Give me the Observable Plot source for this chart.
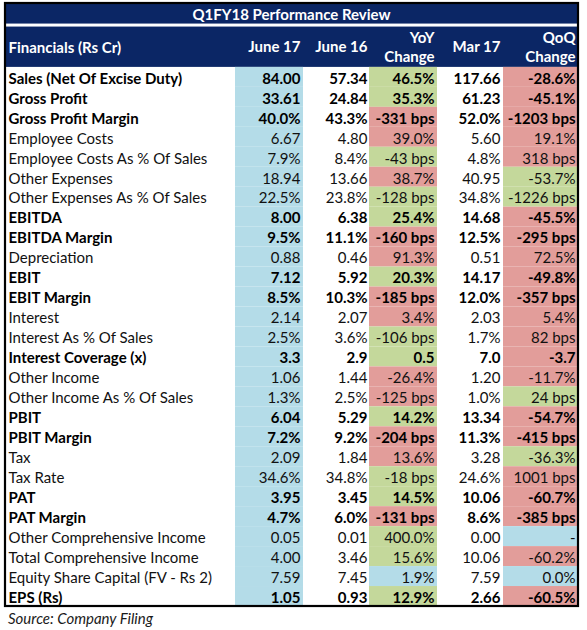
<!DOCTYPE html>
<html><head><meta charset="utf-8">
<script src="https://cdn.jsdelivr.net/npm/d3@7"></script>
<script src="https://cdn.jsdelivr.net/npm/@observablehq/plot@0.6"></script>
<style>
body{margin:0;background:#fff;font-family:Lato,sans-serif;}
#caption{font-style:italic;font-size:15px;color:#1a1a1a;margin:0 0 0 8px;line-height:20px;}
</style></head><body>
<div id="chart"></div>
<div id="caption">Source: Company Filing</div>
<script>
// ---------- data ----------
const title = "Q1FY18 Performance Review";
const headers = ["Financials (Rs Cr)", "June 17", "June 16", "YoY\nChange", "Mar 17", "QoQ\nChange"];
const items = [
  "Sales (Net Of Excise Duty)", "Gross Profit", "Gross Profit Margin", "Employee Costs",
  "Employee Costs As % Of Sales", "Other Expenses", "Other Expenses As % Of Sales", "EBITDA",
  "EBITDA Margin", "Depreciation", "EBIT", "EBIT Margin", "Interest", "Interest As % Of Sales",
  "Interest Coverage (x)", "Other Income", "Other Income As % Of Sales", "PBIT", "PBIT Margin",
  "Tax", "Tax Rate", "PAT", "PAT Margin", "Other Comprehensive Income",
  "Total Comprehensive Income", "Equity Share Capital (FV - Rs 2)", "EPS (Rs)"
];
const june17 = ["84.00","33.61","40.0%","6.67","7.9%","18.94","22.5%","8.00","9.5%","0.88","7.12","8.5%","2.14","2.5%","3.3","1.06","1.3%","6.04","7.2%","2.09","34.6%","3.95","4.7%","0.05","4.00","7.59","1.05"];
const june16 = ["57.34","24.84","43.3%","4.80","8.4%","13.66","23.8%","6.38","11.1%","0.46","5.92","10.3%","2.07","3.6%","2.9","1.44","2.5%","5.29","9.2%","1.84","34.8%","3.45","6.0%","0.01","3.46","7.45","0.93"];
const yoyChange = ["46.5%","35.3%","-331 bps","39.0%","-43 bps","38.7%","-128 bps","25.4%","-160 bps","91.3%","20.3%","-185 bps","3.4%","-106 bps","0.5","-26.4%","-125 bps","14.2%","-204 bps","13.6%","-18 bps","14.5%","-131 bps","400.0%","15.6%","1.9%","12.9%"];
const mar17 = ["117.66","61.23","52.0%","5.60","4.8%","40.95","34.8%","14.68","12.5%","0.51","14.17","12.0%","2.03","1.7%","7.0","1.20","1.0%","13.34","11.3%","3.28","24.6%","10.06","8.6%","0.00","10.06","7.59","2.66"];
const qoqChange = ["-28.6%","-45.1%","-1203 bps","19.1%","318 bps","-53.7%","-1226 bps","-45.5%","-295 bps","72.5%","-49.8%","-357 bps","5.4%","82 bps","-3.7","-11.7%","24 bps","-54.7%","-415 bps","-36.3%","1001 bps","-60.7%","-385 bps","-","-60.2%","0.0%","-60.5%"];
// assessment of each change: F = favourable, U = unfavourable, N = neutral
const yoyTone = ["F","F","U","U","F","U","F","F","U","U","F","U","U","F","F","U","U","F","U","U","F","F","U","F","F","N","F"];
const qoqTone = ["U","U","U","U","U","F","F","U","U","U","U","U","U","U","U","U","F","U","U","F","U","U","U","N","U","N","U"];
const keyRows = ["Sales (Net Of Excise Duty)","Gross Profit","Gross Profit Margin","EBITDA","EBITDA Margin","EBIT","EBIT Margin","Interest Coverage (x)","PBIT","PBIT Margin","PAT","PAT Margin","EPS (Rs)"];

// ---------- layout ----------
const W = 587, H = 608;
const colEdges = [[5,235],[235,303],[303,369],[369,437],[437,503],[503,577]];
const textX = [8, 300, 367, 434, 500, 575];
const yTop = -3.2, yTitleEnd = -2.17, yHeaderStart = -2.02;

const columns = [null, june17, june16, yoyChange, mar17, qoqChange];
const cells = items.flatMap((item, i) => [
  {row: i, col: 0, text: item, bold: keyRows.includes(item), tone: null},
  ...[1,2,3,4,5].map(c => ({
    row: i, col: c, text: columns[c][i], bold: keyRows.includes(item),
    tone: c === 1 ? "current" : c === 3 ? yoyTone[i] : c === 5 ? qoqTone[i] : null
  }))
]);
const filled = cells.filter(d => d.tone);
const headerCells = headers.map((h, c) => ({col: c, text: h}));

const bodyText = (data, anchor, bold) => Plot.text(data, {
  x: d => textX[d.col], y: d => d.row + 0.5, text: "text",
  fill: bold ? "#000" : "#111", fontWeight: bold ? "bold" : "normal",
  textAnchor: anchor, dy: 1.5
});

const navy = "#0b2665";
const chart = Plot.plot({
  width: W, height: H, margin: 0,
  style: {fontFamily: "Lato, sans-serif", fontSize: "15px", background: "#fff"},
  x: {type: "linear", domain: [0, W], range: [0, W], axis: null},
  y: {type: "linear", domain: [yTop, 27], range: [3, 606], axis: null},
  color: {type: "ordinal", domain: ["current","F","U","N"], range: ["#b4dce8","#c4d89b","#e29d9a","#b4dce8"]},
  marks: [
    // title + header background
    Plot.rect([{}], {x1: colEdges[0][0], x2: colEdges[5][1], y1: yTop, y2: yTitleEnd, fill: navy}),
    Plot.rect([{}], {x1: colEdges[0][0], x2: colEdges[5][1], y1: yHeaderStart, y2: 0, fill: navy}),
    // coloured cells
    Plot.rect(filled, {x1: d => colEdges[d.col][0], x2: d => colEdges[d.col][1], y1: d => d.row, y2: d => d.row + 1, fill: "tone"}),
    // title
    Plot.text([title], {x: (colEdges[0][0] + colEdges[5][1]) / 2, y: (yTop + yTitleEnd) / 2, text: d => d, fill: "#fff", fontWeight: "bold", fontSize: 15, dy: 1}),
    // headers
    Plot.text(headerCells.filter(d => d.col === 0), {x: d => textX[d.col], y: yHeaderStart / 2, text: "text", fill: "#fff", fontWeight: "bold", fontSize: 15, textAnchor: "start", dy: 1}),
    Plot.text(headerCells.filter(d => d.col > 0), {x: d => textX[d.col], y: yHeaderStart / 2, text: "text", fill: "#fff", fontWeight: "bold", fontSize: 15, textAnchor: "end", lineHeight: 1.3, dy: -1}),
    // body text
    bodyText(cells.filter(d => !d.bold && d.col === 0), "start", false),
    bodyText(cells.filter(d => !d.bold && d.col > 0), "end", false),
    bodyText(cells.filter(d => d.bold && d.col === 0), "start", true),
    bodyText(cells.filter(d => d.bold && d.col > 0), "end", true),
    // outer border
    Plot.rect([{}], {x1: colEdges[0][0], x2: colEdges[5][1] + 1, y1: yTop, y2: 27, fill: "none", stroke: "#000", strokeWidth: 2.2})
  ]
});
document.getElementById("chart").append(chart);
</script>
</body></html>
